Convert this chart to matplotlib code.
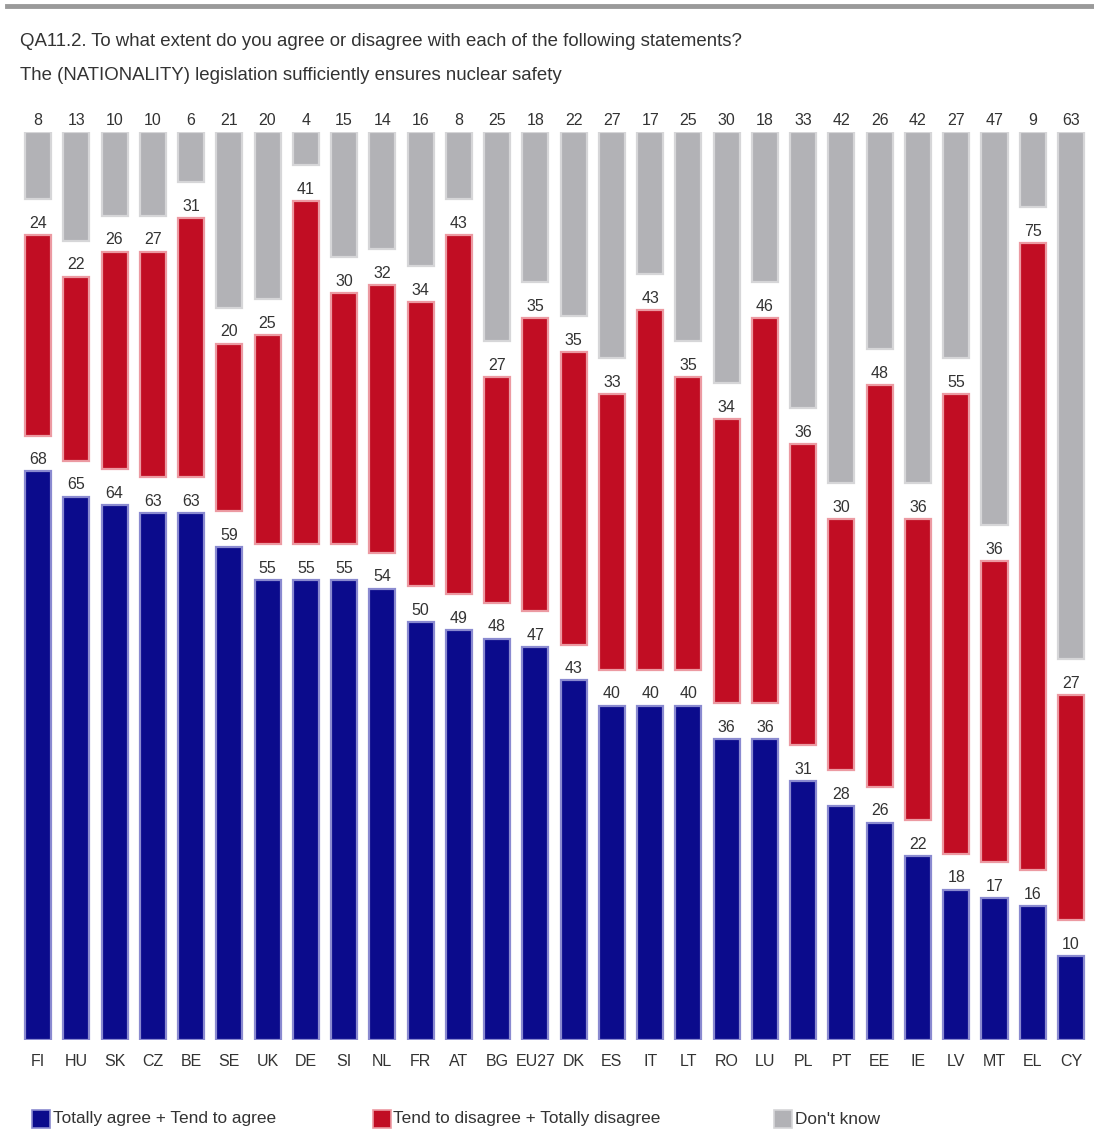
import matplotlib
matplotlib.use("Agg")
import matplotlib.pyplot as plt
from matplotlib.patches import Rectangle
from matplotlib.lines import Line2D

plt.rcParams['font.family'] = ['Liberation Sans', 'DejaVu Sans']

# data
countries = ['FI', 'HU', 'SK', 'CZ', 'BE', 'SE', 'UK', 'DE', 'SI', 'NL', 'FR', 'AT', 'BG', 'EU27',
             'DK', 'ES', 'IT', 'LT', 'RO', 'LU', 'PL', 'PT', 'EE', 'IE', 'LV', 'MT', 'EL', 'CY']
agree = [68, 65, 64, 63, 63, 59, 55, 55, 55, 54, 50, 49, 48, 47,
         43, 40, 40, 40, 36, 36, 31, 28, 26, 22, 18, 17, 16, 10]
disagree = [24, 22, 26, 27, 31, 20, 25, 41, 30, 32, 34, 43, 27, 35,
            35, 33, 43, 35, 34, 46, 36, 30, 48, 36, 55, 36, 75, 27]
dontknow = [8, 13, 10, 10, 6, 21, 20, 4, 15, 14, 16, 8, 25, 18,
            22, 27, 17, 25, 30, 18, 33, 42, 26, 42, 27, 47, 9, 63]
legend_labels = ['Totally agree + Tend to agree', 'Tend to disagree + Totally disagree', "Don't know"]

blue, blue_e = '#0b0b8c', '#8a8ad0'
red, red_e = '#c10d23', '#ec9aa2'
grey, grey_e = '#b2b2b6', '#d6d6d8'
txt = '#333333'

W, H = 1094, 1138
fig = plt.figure(figsize=(W / 100, H / 100), dpi=100)

# segments are stacked with a blank gap between them
gap = 4.3
ax = fig.add_axes([18 / W, (H - 1040) / H, (1090 - 18) / W, (1040 - 132) / H])
x = list(range(len(countries)))
bw = 0.68

bottoms_r = [a + gap for a in agree]
bottoms_g = [a + d + 2 * gap for a, d in zip(agree, disagree)]
ax.bar(x, agree, bw, color=blue, edgecolor=blue_e, linewidth=1.6)
ax.bar(x, disagree, bw, bottom=bottoms_r, color=red, edgecolor=red_e, linewidth=1.6)
ax.bar(x, dontknow, bw, bottom=bottoms_g, color=grey, edgecolor=grey_e, linewidth=1.6)

for i in x:
    for top, v in [(agree[i], agree[i]),
                   (bottoms_r[i] + disagree[i], disagree[i]),
                   (bottoms_g[i] + dontknow[i], dontknow[i])]:
        ax.text(i, top + 0.5, str(v), ha='center', va='bottom', fontsize=11.5, color=txt)

ax.set_xlim((18 - 38) / 38.26, (1090 - 38) / 38.26)
ax.set_ylim(0, 100 + 2 * gap)
ax.set_xticks(x)
ax.set_xticklabels(countries, fontsize=11.5, color=txt)
ax.tick_params(axis='x', length=0, pad=10)
ax.set_yticks([])
for s in ax.spines.values():
    s.set_visible(False)

# top rule
fig.add_artist(Line2D([7 / W, 1], [1 - 6 / H, 1 - 6 / H], color='#9a9a9a', linewidth=3.5))

fig.text(20 / W, 1 - 41 / H, 'QA11.2. To what extent do you agree or disagree with each of the following statements?',
         fontsize=13.4, color=txt, va='center')
fig.text(20 / W, 1 - 75 / H, 'The (NATIONALITY) legislation sufficiently ensures nuclear safety',
         fontsize=13.4, color=txt, va='center')

# legend
for lx, tx, c, e, lab in [(32, 53, blue, blue_e, legend_labels[0]),
                          (373, 393, red, red_e, legend_labels[1]),
                          (774, 795, grey, grey_e, legend_labels[2])]:
    fig.add_artist(Rectangle((lx / W, 1 - 1128 / H), 18 / W, 18 / H, facecolor=c, edgecolor=e,
                             linewidth=1.2, transform=fig.transFigure))
    fig.text(tx / W, 1 - 1119 / H, lab, fontsize=12.4, color=txt, va='center')

fig.savefig('out.png', dpi=100)
